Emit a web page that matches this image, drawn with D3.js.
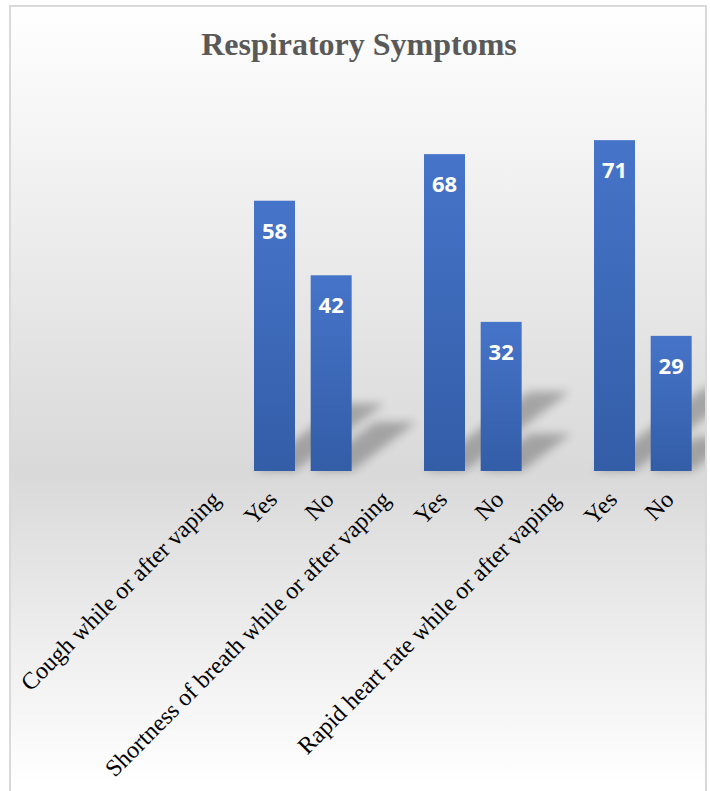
<!DOCTYPE html>
<html>
<head>
<meta charset="utf-8">
<script src="https://cdn.jsdelivr.net/npm/d3@7"></script>
<style>
  html, body { margin: 0; padding: 0; background: #ffffff; }
  svg { display: block; }
</style>
</head>
<body>
<svg id="chart" width="710" height="791"></svg>
<script>
// Survey answers for three respiratory symptoms (percent of respondents)
const chartTitle = "Respiratory Symptoms";
const categories = [
  "Cough while or after vaping", "Yes", "No",
  "Shortness of breath while or after vaping", "Yes", "No",
  "Rapid heart rate while or after vaping", "Yes", "No"
];
const values = [null, 58, 42, null, 68, 32, null, 71, 29];
const yDomain = [0, 80];

const svg = d3.select("#chart");

const defs = svg.append("defs");

// chart area background: white at the top, grey near the axis, white again below
const bg = defs.append("linearGradient")
  .attr("id", "bgGrad").attr("gradientUnits", "userSpaceOnUse")
  .attr("x1", 0).attr("y1", 6).attr("x2", 0).attr("y2", 785);
bg.append("stop").attr("offset", 0).attr("stop-color", "#ffffff");
bg.append("stop").attr("offset", (471 - 6) / 779).attr("stop-color", "#d9d9d9");
bg.append("stop").attr("offset", 1).attr("stop-color", "#ffffff");

// bar fill: lighter blue on top, deeper blue at the base
const barGrad = defs.append("linearGradient")
  .attr("id", "barGrad").attr("x1", 0).attr("y1", 0).attr("x2", 0).attr("y2", 1);
barGrad.append("stop").attr("offset", "0%").attr("stop-color", "#4674c9");
barGrad.append("stop").attr("offset", "100%").attr("stop-color", "#335da7");

defs.append("filter").attr("id", "shadowBlur")
  .attr("filterUnits", "userSpaceOnUse")
  .attr("x", 0).attr("y", 0).attr("width", 710).attr("height", 791)
  .append("feGaussianBlur").attr("stdDeviation", 5);

defs.append("clipPath").attr("id", "areaClip")
  .append("rect").attr("x", 11).attr("y", 7).attr("width", 694).attr("height", 800);

// chart frame
svg.append("rect")
  .attr("x", 10).attr("y", 6).attr("width", 696).attr("height", 810)
  .attr("fill", "url(#bgGrad)")
  .attr("stroke", "#d9d9d9").attr("stroke-width", 2);

// title
svg.append("text")
  .attr("x", 359).attr("y", 55)
  .attr("text-anchor", "middle")
  .attr("font-family", "'Liberation Serif', 'Times New Roman', serif")
  .attr("font-weight", "bold")
  .attr("font-size", 32)
  .attr("fill", "#595959")
  .text(chartTitle);

// scales
const idx = d3.range(categories.length);
const pad = 0.2765;
const x = d3.scaleBand()
  .domain(idx)
  .range([189.5, 699.5])
  .paddingInner(pad)
  .paddingOuter(pad / 2);

const y = d3.scaleLinear().domain(yDomain).range([471, 98.2]);

const barsData = idx.filter(i => values[i] != null);

// diagonal cast shadows behind the bars (blurred as one group)
const shadowG = svg.append("g").attr("clip-path", "url(#areaClip)")
  .append("g").attr("filter", "url(#shadowBlur)").attr("opacity", 0.26);
shadowG.selectAll("rect.shadow")
  .data(barsData)
  .join("rect")
  .attr("class", "shadow")
  .attr("x", 0)
  .attr("y", i => y(values[i]) - y(0))
  .attr("width", x.bandwidth())
  .attr("height", i => y(0) - y(values[i]))
  .attr("transform", i => `matrix(1,0,-0.33,0.25,${x(i)},${y(0)})`)
  .attr("fill", "#000000");

// bars
svg.append("g").selectAll("rect.bar")
  .data(barsData)
  .join("rect")
  .attr("class", "bar")
  .attr("x", i => x(i))
  .attr("y", i => y(values[i]))
  .attr("width", x.bandwidth())
  .attr("height", i => y(0) - y(values[i]))
  .attr("fill", "url(#barGrad)");

// value labels inside the bars
svg.append("g").selectAll("text.val")
  .data(barsData)
  .join("text")
  .attr("class", "val")
  .attr("x", i => x(i) + x.bandwidth() / 2)
  .attr("y", i => y(values[i]) + 38)
  .attr("text-anchor", "middle")
  .attr("font-family", "'Open Sans', 'Noto Sans', sans-serif")
  .attr("font-weight", "bold")
  .attr("font-size", 22)
  .attr("fill", "#ffffff")
  .text(i => values[i]);

// category axis with slanted labels
const axis = d3.axisBottom(x)
  .tickSize(0)
  .tickFormat(i => categories[i]);

const axisG = svg.append("g")
  .attr("transform", `translate(0,${y(0)})`)
  .call(axis);
axisG.select(".domain").remove();
axisG.selectAll(".tick text")
  .attr("font-family", "'Liberation Serif', 'Times New Roman', serif")
  .attr("font-size", 24)
  .attr("fill", "#000000")
  .attr("text-anchor", "end")
  .attr("dy", 0)
  .attr("y", 0)
  .attr("transform", "translate(4,30) rotate(-45)");
</script>
</body>
</html>
